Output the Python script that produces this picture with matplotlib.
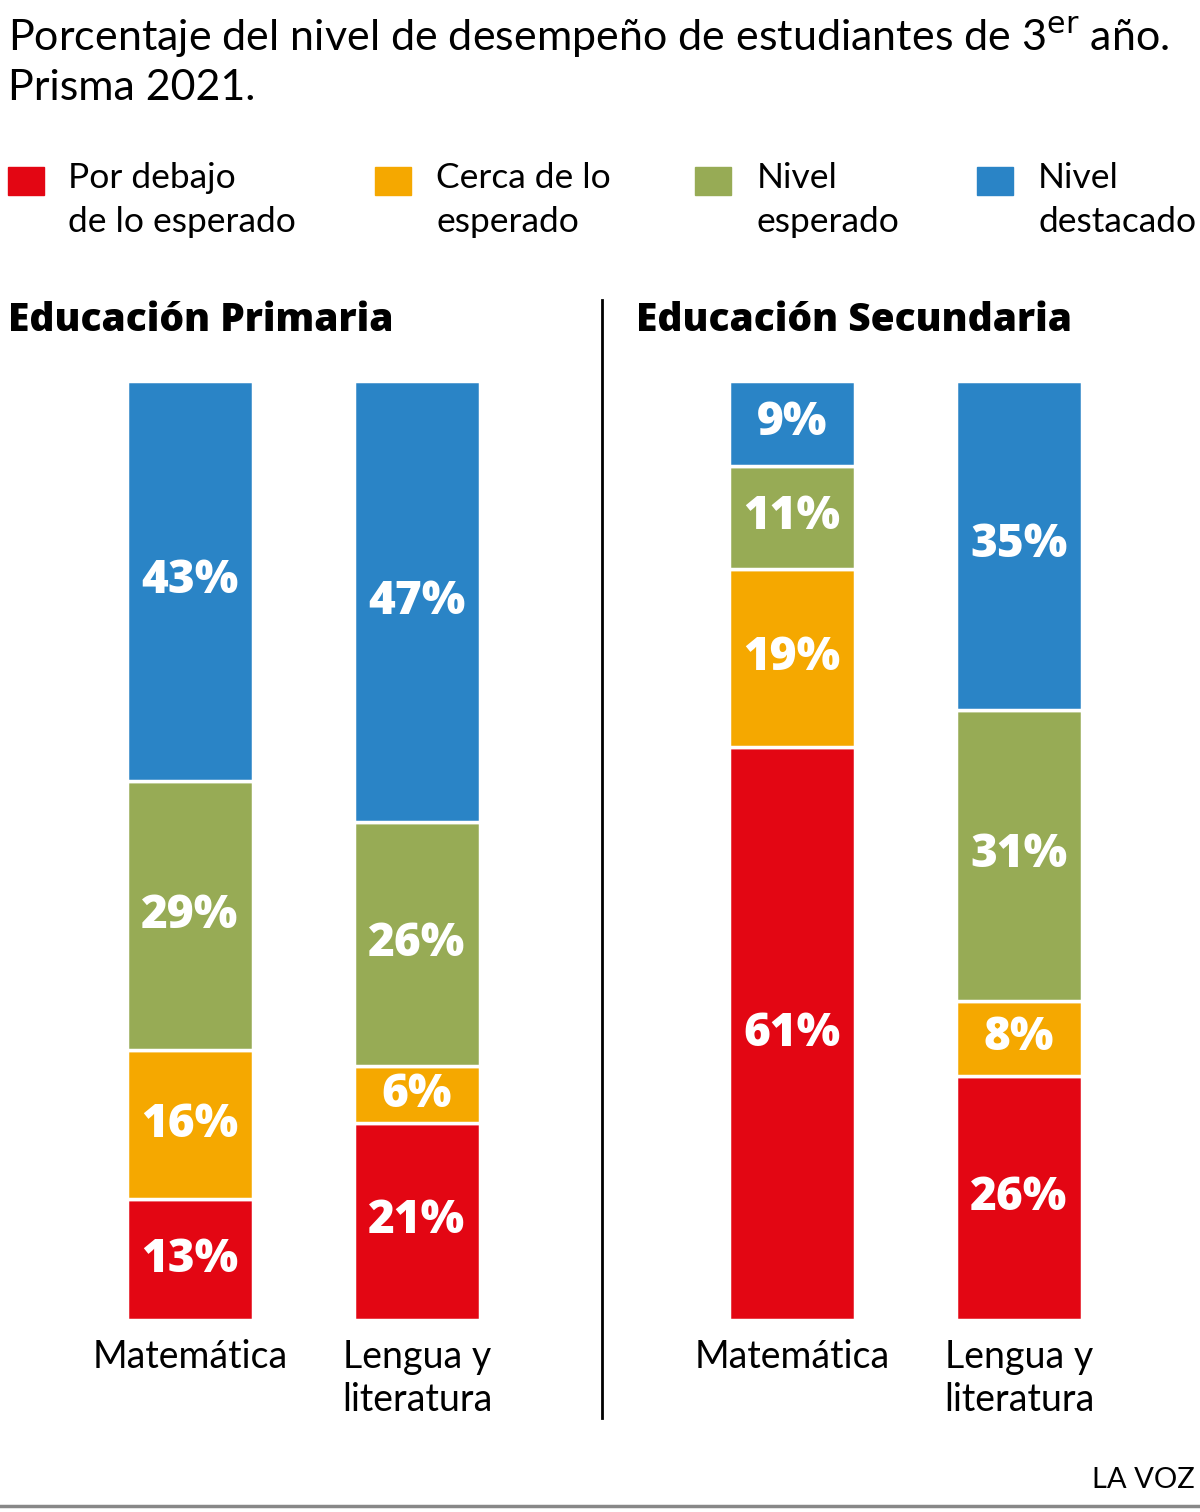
import matplotlib
matplotlib.use("Agg")
import matplotlib.pyplot as plt

# data (percent, bottom to top)
levels = ["Por debajo\nde lo esperado", "Cerca de lo\nesperado", "Nivel\nesperado", "Nivel\ndestacado"]
colors = ["#E30613", "#F5A800", "#97AB55", "#2A84C6"]
subjects = ["Matemática", "Lengua y\nliteratura"]
primaria = [[13, 16, 29, 43],   # Matemática
            [21, 6, 26, 47]]    # Lengua y literatura
secundaria = [[61, 19, 11, 9],
              [26, 8, 31, 35]]

W, H = 1200, 1512
plt.rcParams["font.family"] = ["Lato", "DejaVu Sans"]
HEAVY = ["Open Sans", "DejaVu Sans"]

fig = plt.figure(figsize=(W / 100, H / 100), dpi=100)


def fx(px):
    return px / W


def fy(py):
    return 1 - py / H


# title
fig.text(fx(8), fy(51), "Porcentaje del nivel de desempeño de estudiantes de 3$^{\\rm er}$ año.",
         fontsize=31, va="baseline", ha="left")
fig.text(fx(8), fy(100), "Prisma 2021.", fontsize=31, va="baseline", ha="left")

# legend
leg_sq = [8, 375, 695, 977]
leg_tx = [68, 436, 757, 1038]
for sq, tx, lab, c in zip(leg_sq, leg_tx, levels, colors):
    fig.patches.append(plt.Rectangle((fx(sq), fy(195)), fx(36), 28 / H, color=c,
                                     transform=fig.transFigure, figure=fig))
    fig.text(fx(tx), fy(162), lab, fontsize=25.5, va="top", ha="left", linespacing=1.45)

# panel headings
fig.text(fx(8), fy(331), "Educación Primaria", fontsize=28, fontweight=800,
         family=HEAVY, va="baseline")
fig.text(fx(636), fy(331), "Educación Secundaria", fontsize=28, fontweight=800,
         family=HEAVY, va="baseline")

# divider + bottom rule
fig.add_artist(plt.Line2D([fx(602), fx(602)], [fy(300), fy(1418)], color="black", lw=2))
fig.add_artist(plt.Line2D([0, 1], [fy(1506), fy(1506)], color="#888888", lw=2.5))
fig.text(fx(1195), fy(1488), "LA VOZ", fontsize=21, ha="right", va="baseline")

unit = 227  # px between bar centres
bar_top, bar_bot = 381, 1320


def panel(left_px, centre0_px, data):
    ax = fig.add_axes([fx(left_px), fy(bar_bot), fx(600), (bar_bot - bar_top) / H])
    ax.set_xlim(-(centre0_px - left_px) / unit, (left_px + 600 - centre0_px) / unit)
    ax.set_ylim(0, 100)
    ax.axis("off")
    for i, vals in enumerate(data):
        total = sum(vals)
        bottom = 0
        for v, c in zip(vals, colors):
            h = v / total * 100
            ax.bar(i, h, bottom=bottom, width=126 / unit, color=c,
                   edgecolor="white", linewidth=2.5)
            ax.text(i, bottom + h / 2, f"{v}%", color="white", fontsize=33,
                    fontweight=800, family=HEAVY, ha="center", va="center")
            bottom += h
        ax.text(i, -2.0, subjects[i], fontsize=27, ha="center", va="top",
                linespacing=1.25, clip_on=False)


panel(0, 190, primaria)
panel(600, 792, secundaria)

fig.savefig("out.png", dpi=100, facecolor="white")
